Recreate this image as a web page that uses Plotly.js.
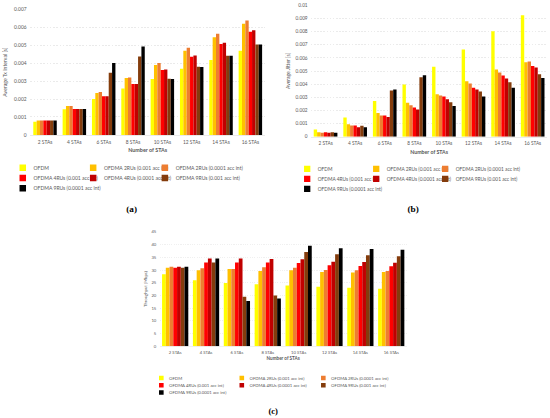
<!DOCTYPE html>
<html>
<head>
<meta charset="utf-8">
<script src="https://cdn.plot.ly/plotly-3.0.1.min.js"></script>
<style>
  html, body { margin:0; padding:0; background:#fff; width:550px; height:418px; overflow:hidden; }
  .chart { position:absolute; transform-origin:0 0; }
</style>
</head>
<body>
<div id="chartA" class="chart"></div>
<div id="chartB" class="chart"></div>
<div id="chartC" class="chart"></div>
<script>
// ---------- DATA ----------
const categories = ['2 STAs', '4 STAs', '6 STAs', '8 STAs', '10 STAs', '12 STAs', '14 STAs', '16 STAs'];
const seriesNames = [
  'OFDM',
  'OFDMA 2RUs (0.001 acc int)',
  'OFDMA 2RUs (0.0001 acc int)',
  'OFDMA 4RUs (0.001 acc int)',
  'OFDMA 4RUs (0.0001 acc int)',
  'OFDMA 9RUs (0.001 acc int)',
  'OFDMA 9RUs (0.0001 acc int)'
];
const seriesColors = ['#FFFF00', '#FFC000', '#ED7D31', '#FF0000', '#C00000', '#843C0C', '#000000'];

// (a) Average Tx Interval [s]
const txOFDM       = [0.00074, 0.00143, 0.00200, 0.00259, 0.00311, 0.00368, 0.00417, 0.00469];
const tx2RU_001    = [0.00080, 0.00161, 0.00233, 0.00317, 0.00389, 0.00469, 0.00544, 0.00619];
const tx2RU_0001   = [0.00080, 0.00161, 0.00239, 0.00320, 0.00400, 0.00485, 0.00563, 0.00637];
const tx4RU_001    = [0.00080, 0.00144, 0.00215, 0.00283, 0.00361, 0.00435, 0.00506, 0.00574];
const tx4RU_0001   = [0.00080, 0.00144, 0.00215, 0.00283, 0.00365, 0.00443, 0.00513, 0.00583];
const tx9RU_001    = [0.00080, 0.00144, 0.00346, 0.00437, 0.00313, 0.00380, 0.00441, 0.00504];
const tx9RU_0001   = [0.00080, 0.00144, 0.00400, 0.00493, 0.00311, 0.00378, 0.00441, 0.00504];

// (b) Average Jitter [s]
const jitOFDM      = [0.00056, 0.00147, 0.00271, 0.00397, 0.00532, 0.00663, 0.00802, 0.00924];
const jit2RU_001   = [0.00035, 0.00096, 0.00180, 0.00258, 0.00324, 0.00423, 0.00511, 0.00567];
const jit2RU_0001  = [0.00030, 0.00086, 0.00162, 0.00240, 0.00314, 0.00405, 0.00489, 0.00572];
const jit4RU_001   = [0.00035, 0.00086, 0.00162, 0.00223, 0.00306, 0.00372, 0.00466, 0.00539];
const jit4RU_0001  = [0.00030, 0.00073, 0.00150, 0.00208, 0.00286, 0.00360, 0.00443, 0.00527];
const jit9RU_001   = [0.00035, 0.00084, 0.00352, 0.00453, 0.00263, 0.00344, 0.00415, 0.00476];
const jit9RU_0001  = [0.00030, 0.00073, 0.00360, 0.00468, 0.00233, 0.00306, 0.00372, 0.00446];

// (c) Throughput [Mbps]
const thrOFDM      = [28.3, 26.0, 24.9, 24.4, 23.9, 23.4, 23.0, 22.6];
const thr2RU_001   = [30.9, 29.9, 30.4, 29.6, 29.9, 29.2, 29.0, 29.2];
const thr2RU_0001  = [31.3, 30.7, 30.4, 31.1, 30.9, 30.0, 29.9, 29.6];
const thr4RU_001   = [30.9, 33.0, 33.0, 33.0, 32.8, 31.9, 31.6, 31.5];
const thr4RU_0001  = [31.3, 34.5, 34.5, 34.3, 34.2, 33.3, 33.2, 32.9];
const thr9RU_001   = [30.9, 33.0, 19.5, 20.0, 37.1, 36.2, 35.8, 35.4];
const thr9RU_0001  = [31.3, 34.5, 17.8, 18.8, 39.6, 38.6, 38.3, 38.0];

// ---------- DRAWING ----------
const legendOf = ['legend', 'legend2', 'legend3', 'legend', 'legend2', 'legend3', 'legend'];
const FONT = 'Lato, "Open Sans", sans-serif';
const GREY = '#595959';

function makeChart(id, cfg) {
  const el = document.getElementById(id);
  el.style.left = cfg.left + 'px';
  el.style.top = cfg.top + 'px';
  el.style.width = cfg.W + 'px';
  el.style.height = cfg.H + 'px';
  el.style.transform = 'scale(' + cfg.s + ')';

  const traces = cfg.series.map((vals, i) => ({
    type: 'bar',
    name: seriesNames[i],
    x: categories,
    y: vals,
    marker: { color: seriesColors[i], line: { width: 0 } },
    legend: legendOf[i],
    hoverinfo: 'none'
  }));

  const plotW = cfg.W - cfg.m.l - cfg.m.r;
  const plotH = cfg.H - cfg.m.t - cfg.m.b;
  const px2x = px => (px - cfg.m.l) / plotW;
  const px2y = py => 1 - (py - cfg.m.t) / plotH;

  const legFont = { family: FONT, size: cfg.legFont, color: GREY };
  const mkLeg = lx => ({
    x: px2x(lx), y: px2y(cfg.legTop), xanchor: 'left', yanchor: 'top',
    orientation: 'v', font: legFont, bgcolor: 'rgba(0,0,0,0)', borderwidth: 0,
    tracegroupgap: 0
  });

  const layout = {
    width: cfg.W, height: cfg.H,
    margin: cfg.m,
    paper_bgcolor: '#ffffff', plot_bgcolor: '#ffffff',
    font: { family: FONT, color: GREY },
    barmode: 'group', bargap: cfg.bargap, bargroupgap: 0,
    showlegend: true,
    legend: mkLeg(cfg.legX[0]),
    legend2: mkLeg(cfg.legX[1]),
    legend3: mkLeg(cfg.legX[2]),
    xaxis: {
      type: 'category',
      showgrid: false, zeroline: false,
      showline: true, linecolor: '#d9d9d9', linewidth: 1,
      ticks: '', ticklabelstandoff: cfg.xStand,
      tickfont: { family: FONT, size: cfg.tickFont, color: GREY },
      title: { text: 'Number of STAs', font: { family: FONT, size: cfg.titleFont, color: GREY, weight: 'bold' }, standoff: cfg.xTitleStand },
      fixedrange: true
    },
    yaxis: {
      range: cfg.yRange, dtick: cfg.dtick, tick0: 0,
      showgrid: true, gridcolor: '#d9d9d9', gridwidth: 1, griddash: 'dot',
      zeroline: false, showline: false,
      ticks: '', ticklabelstandoff: cfg.yStand,
      tickfont: { family: FONT, size: cfg.tickFont, color: GREY },
      title: { text: cfg.yTitle, font: { family: FONT, size: cfg.yTitleFont, color: GREY }, standoff: cfg.yTitleStand },
      fixedrange: true
    },
    annotations: [{
      text: cfg.caption, xref: 'paper', yref: 'paper',
      x: px2x(cfg.capX), y: px2y(cfg.capY), xanchor: 'center', yanchor: 'middle',
      showarrow: false,
      font: { family: '"Liberation Serif", "DejaVu Serif", serif', size: cfg.capFont, color: '#000000', weight: 'bold' }
    }]
  };

  Plotly.newPlot(el, traces, layout, { staticPlot: true, displayModeBar: false });
}

// (a)
makeChart('chartA', {
  left: 0, top: 0, s: 0.542, W: 507, H: 406,
  m: { l: 56, r: 18, t: 17, b: 157 },
  series: [txOFDM, tx2RU_001, tx2RU_0001, tx4RU_001, tx4RU_0001, tx9RU_001, tx9RU_0001],
  yRange: [0, 0.007], dtick: 0.001, yTitle: 'Average Tx Interval [s]',
  bargap: 0.2, tickFont: 9, titleFont: 10, yTitleFont: 9.5, legFont: 9.3,
  xStand: 4, yStand: 6, xTitleStand: 8, yTitleStand: 10,
  legX: [22, 151.9, 284.2], legTop: 295,
  caption: '(a)', capX: 243, capY: 385.6, capFont: 17
});

// (b)
makeChart('chartB', {
  left: 275, top: 0, s: 0.526, W: 523, H: 418,
  m: { l: 68, r: 5, t: 9.5, b: 158 },
  series: [jitOFDM, jit2RU_001, jit2RU_0001, jit4RU_001, jit4RU_0001, jit9RU_001, jit9RU_0001],
  yRange: [0, 0.01], dtick: 0.001, yTitle: 'Average Jitter [s]',
  bargap: 0.2, tickFont: 9, titleFont: 10, yTitleFont: 9.5, legFont: 9.2,
  xStand: 4, yStand: 5, xTitleStand: 8, yTitleStand: 8,
  legX: [41.2, 172.4, 303.5], legTop: 306.8,
  caption: '(b)', capX: 262.9, capY: 397.3, capFont: 17.5
});

// (c)
makeChart('chartC', {
  left: 0, top: 220, s: 0.384, W: 1432, H: 516,
  m: { l: 416, r: 373, t: 30.5, b: 187 },
  series: [thrOFDM, thr2RU_001, thr2RU_0001, thr4RU_001, thr4RU_0001, thr9RU_001, thr9RU_0001],
  yRange: [0, 45], dtick: 5, yTitle: 'Throughput [Mbps]',
  bargap: 0.15, tickFont: 11, titleFont: 12, yTitleFont: 11, legFont: 11.2,
  xStand: 6, yStand: 8, xTitleStand: 6, yTitleStand: 8,
  legX: [400.1, 609.7, 822], legTop: 397,
  caption: '(c)', capX: 711.7, capY: 496.6, capFont: 22.5
});
</script>
</body>
</html>
